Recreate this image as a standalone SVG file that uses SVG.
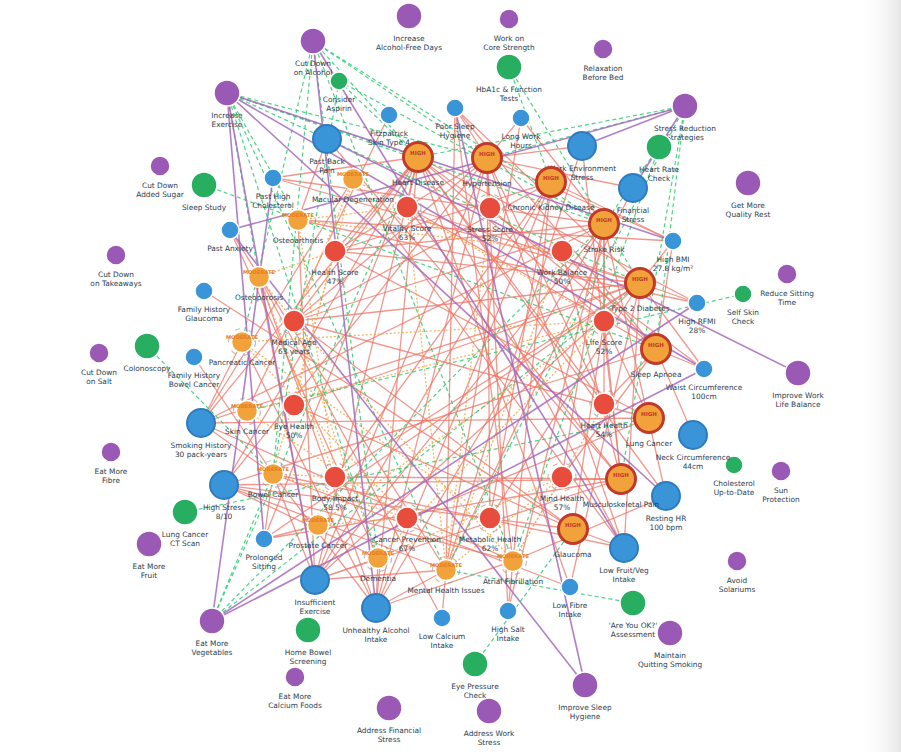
<svg xmlns="http://www.w3.org/2000/svg" width="901" height="752" viewBox="0 0 901 752">
<defs>
<linearGradient id="shade" x1="0" y1="0" x2="1" y2="0">
<stop offset="0" stop-color="#ffffff" stop-opacity="0"/>
<stop offset="1" stop-color="#e6e6e6" stop-opacity="1"/>
</linearGradient>
<style>
.er{stroke:#ec7063;stroke-width:1.3;opacity:.72;fill:none}
.eo{stroke:#f5a64a;stroke-width:1.3;stroke-dasharray:2 2;opacity:.85;fill:none}
.eg{stroke:#2ecc71;stroke-width:1.2;stroke-dasharray:4 3;opacity:.85;fill:none}
.ep{stroke:#a569bd;stroke-width:1.6;opacity:.85;fill:none}
.act{fill:#9b59b6;stroke:#fff;stroke-width:1.5}
.scr{fill:#27ae60;stroke:#fff;stroke-width:1.5}
.rf{fill:#3a94d8;stroke:#fff;stroke-width:1.5}
.rfl{fill:#3a94d8;stroke:#2e7cbf;stroke-width:2}
.sc{fill:#e74c3c;stroke:#fff;stroke-width:1.5}
.hi{fill:#f2a23a;stroke:#c0392b;stroke-width:3}
.mo{fill:#f2a23a;stroke:#fff;stroke-width:1.5}
.arc{fill:none;stroke:#9a9a9a;stroke-width:1.1;stroke-dasharray:5 9;opacity:.7}
.t{font-family:"DejaVu Sans",Verdana,sans-serif;font-size:7.4px;fill:#2c3e50;text-anchor:middle}
.ht{font-family:"DejaVu Sans",sans-serif;font-size:5.5px;font-weight:bold;fill:#c0392b;text-anchor:middle}
.mt{font-family:"DejaVu Sans",sans-serif;font-size:5.2px;font-weight:bold;fill:#e67e22;text-anchor:middle}
</style>
</defs>
<rect x="0" y="0" width="901" height="752" fill="#ffffff"/>
<rect x="858" y="0" width="43" height="752" fill="url(#shade)"/>

<g id="connectors">
<g id="edges-risk">
<line class="er" x1="201" y1="423" x2="649" y2="418"/>
<line class="er" x1="201" y1="423" x2="418" y2="157"/>
<line class="er" x1="201" y1="423" x2="604" y2="224"/>
<line class="er" x1="201" y1="423" x2="242" y2="342"/>
<line class="er" x1="201" y1="423" x2="273" y2="474"/>
<line class="er" x1="201" y1="423" x2="353" y2="179"/>
<line class="er" x1="201" y1="423" x2="513" y2="561"/>
<line class="er" x1="201" y1="423" x2="640" y2="283"/>
<line class="er" x1="224" y1="485" x2="487" y2="158"/>
<line class="er" x1="224" y1="485" x2="418" y2="157"/>
<line class="er" x1="224" y1="485" x2="446" y2="570"/>
<line class="er" x1="224" y1="485" x2="513" y2="561"/>
<line class="er" x1="224" y1="485" x2="621" y2="479"/>
<line class="er" x1="224" y1="485" x2="656" y2="349"/>
<line class="er" x1="224" y1="485" x2="378" y2="558"/>
<line class="er" x1="224" y1="485" x2="573" y2="529"/>
<line class="er" x1="315" y1="580" x2="640" y2="283"/>
<line class="er" x1="315" y1="580" x2="418" y2="157"/>
<line class="er" x1="315" y1="580" x2="259" y2="277"/>
<line class="er" x1="315" y1="580" x2="487" y2="158"/>
<line class="er" x1="315" y1="580" x2="273" y2="474"/>
<line class="er" x1="315" y1="580" x2="378" y2="558"/>
<line class="er" x1="315" y1="580" x2="446" y2="570"/>
<line class="er" x1="315" y1="580" x2="298" y2="220"/>
<line class="er" x1="315" y1="580" x2="604" y2="224"/>
<line class="er" x1="315" y1="580" x2="621" y2="479"/>
<line class="er" x1="315" y1="580" x2="551" y2="182"/>
<line class="er" x1="376" y1="608" x2="487" y2="158"/>
<line class="er" x1="376" y1="608" x2="604" y2="224"/>
<line class="er" x1="376" y1="608" x2="513" y2="561"/>
<line class="er" x1="376" y1="608" x2="378" y2="558"/>
<line class="er" x1="376" y1="608" x2="273" y2="474"/>
<line class="er" x1="376" y1="608" x2="418" y2="157"/>
<line class="er" x1="376" y1="608" x2="551" y2="182"/>
<line class="er" x1="376" y1="608" x2="446" y2="570"/>
<line class="er" x1="376" y1="608" x2="242" y2="342"/>
<line class="er" x1="376" y1="608" x2="259" y2="277"/>
<line class="er" x1="624" y1="548" x2="273" y2="474"/>
<line class="er" x1="624" y1="548" x2="418" y2="157"/>
<line class="er" x1="624" y1="548" x2="573" y2="529"/>
<line class="er" x1="624" y1="548" x2="640" y2="283"/>
<line class="er" x1="624" y1="548" x2="353" y2="179"/>
<line class="er" x1="624" y1="548" x2="487" y2="158"/>
<line class="er" x1="570" y1="587" x2="273" y2="474"/>
<line class="er" x1="570" y1="587" x2="640" y2="283"/>
<line class="er" x1="570" y1="587" x2="418" y2="157"/>
<line class="er" x1="508" y1="611" x2="487" y2="158"/>
<line class="er" x1="508" y1="611" x2="604" y2="224"/>
<line class="er" x1="508" y1="611" x2="551" y2="182"/>
<line class="er" x1="442" y1="618" x2="259" y2="277"/>
<line class="er" x1="442" y1="618" x2="446" y2="570"/>
<line class="er" x1="264" y1="539" x2="640" y2="283"/>
<line class="er" x1="264" y1="539" x2="418" y2="157"/>
<line class="er" x1="264" y1="539" x2="621" y2="479"/>
<line class="er" x1="264" y1="539" x2="318" y2="525"/>
<line class="er" x1="264" y1="539" x2="273" y2="474"/>
<line class="er" x1="666" y1="496" x2="513" y2="561"/>
<line class="er" x1="666" y1="496" x2="418" y2="157"/>
<line class="er" x1="666" y1="496" x2="604" y2="224"/>
<line class="er" x1="693" y1="435" x2="656" y2="349"/>
<line class="er" x1="704" y1="369" x2="656" y2="349"/>
<line class="er" x1="704" y1="369" x2="640" y2="283"/>
<line class="er" x1="704" y1="369" x2="418" y2="157"/>
<line class="er" x1="697" y1="303" x2="640" y2="283"/>
<line class="er" x1="697" y1="303" x2="418" y2="157"/>
<line class="er" x1="697" y1="303" x2="298" y2="220"/>
<line class="er" x1="673" y1="241" x2="640" y2="283"/>
<line class="er" x1="673" y1="241" x2="298" y2="220"/>
<line class="er" x1="673" y1="241" x2="656" y2="349"/>
<line class="er" x1="673" y1="241" x2="487" y2="158"/>
<line class="er" x1="673" y1="241" x2="551" y2="182"/>
<line class="er" x1="633" y1="188" x2="446" y2="570"/>
<line class="er" x1="633" y1="188" x2="487" y2="158"/>
<line class="er" x1="582" y1="146" x2="446" y2="570"/>
<line class="er" x1="582" y1="146" x2="621" y2="479"/>
<line class="er" x1="582" y1="146" x2="487" y2="158"/>
<line class="er" x1="521" y1="118" x2="487" y2="158"/>
<line class="er" x1="521" y1="118" x2="604" y2="224"/>
<line class="er" x1="521" y1="118" x2="446" y2="570"/>
<line class="er" x1="455" y1="108" x2="487" y2="158"/>
<line class="er" x1="455" y1="108" x2="446" y2="570"/>
<line class="er" x1="455" y1="108" x2="640" y2="283"/>
<line class="er" x1="455" y1="108" x2="513" y2="561"/>
<line class="er" x1="455" y1="108" x2="656" y2="349"/>
<line class="er" x1="389" y1="115" x2="247" y2="411"/>
<line class="er" x1="327" y1="139" x2="621" y2="479"/>
<line class="er" x1="327" y1="139" x2="298" y2="220"/>
<line class="er" x1="273" y1="178" x2="418" y2="157"/>
<line class="er" x1="273" y1="178" x2="604" y2="224"/>
<line class="er" x1="273" y1="178" x2="640" y2="283"/>
<line class="er" x1="230" y1="230" x2="446" y2="570"/>
<line class="er" x1="230" y1="230" x2="378" y2="558"/>
<line class="er" x1="204" y1="291" x2="573" y2="529"/>
<line class="er" x1="194" y1="357" x2="273" y2="474"/>
</g>
<g id="edges-high">
<line class="er" x1="418" y1="157" x2="604" y2="404"/>
<line class="er" x1="418" y1="157" x2="335" y2="251"/>
<line class="er" x1="418" y1="157" x2="294" y2="321"/>
<line class="er" x1="418" y1="157" x2="604" y2="321"/>
<line class="er" x1="418" y1="157" x2="407" y2="207"/>
<line class="er" x1="487" y1="158" x2="604" y2="404"/>
<line class="er" x1="487" y1="158" x2="490" y2="208"/>
<line class="er" x1="487" y1="158" x2="294" y2="321"/>
<line class="er" x1="487" y1="158" x2="335" y2="251"/>
<line class="er" x1="487" y1="158" x2="490" y2="518"/>
<line class="er" x1="551" y1="182" x2="490" y2="518"/>
<line class="er" x1="551" y1="182" x2="294" y2="321"/>
<line class="er" x1="551" y1="182" x2="335" y2="251"/>
<line class="er" x1="551" y1="182" x2="335" y2="477"/>
<line class="er" x1="604" y1="224" x2="604" y2="404"/>
<line class="er" x1="604" y1="224" x2="294" y2="321"/>
<line class="er" x1="604" y1="224" x2="604" y2="321"/>
<line class="er" x1="604" y1="224" x2="335" y2="251"/>
<line class="er" x1="604" y1="224" x2="562" y2="477"/>
<line class="er" x1="640" y1="283" x2="490" y2="518"/>
<line class="er" x1="640" y1="283" x2="335" y2="477"/>
<line class="er" x1="640" y1="283" x2="294" y2="321"/>
<line class="er" x1="640" y1="283" x2="335" y2="251"/>
<line class="er" x1="640" y1="283" x2="407" y2="207"/>
<line class="er" x1="640" y1="283" x2="294" y2="405"/>
<line class="er" x1="656" y1="349" x2="407" y2="207"/>
<line class="er" x1="656" y1="349" x2="490" y2="208"/>
<line class="er" x1="656" y1="349" x2="604" y2="404"/>
<line class="er" x1="656" y1="349" x2="562" y2="477"/>
<line class="er" x1="656" y1="349" x2="562" y2="251"/>
<line class="er" x1="649" y1="418" x2="407" y2="518"/>
<line class="er" x1="649" y1="418" x2="604" y2="321"/>
<line class="er" x1="649" y1="418" x2="294" y2="321"/>
<line class="er" x1="649" y1="418" x2="335" y2="251"/>
<line class="er" x1="621" y1="479" x2="335" y2="477"/>
<line class="er" x1="621" y1="479" x2="562" y2="251"/>
<line class="er" x1="621" y1="479" x2="407" y2="207"/>
<line class="er" x1="621" y1="479" x2="604" y2="321"/>
<line class="er" x1="573" y1="529" x2="294" y2="405"/>
<line class="er" x1="573" y1="529" x2="294" y2="321"/>
<line class="er" x1="573" y1="529" x2="604" y2="321"/>
</g>
<g id="edges-moderate">
<line class="eo" x1="353" y1="179" x2="294" y2="405"/>
<line class="eo" x1="353" y1="179" x2="294" y2="321"/>
<line class="eo" x1="353" y1="179" x2="604" y2="321"/>
<line class="eo" x1="298" y1="220" x2="335" y2="477"/>
<line class="eo" x1="298" y1="220" x2="407" y2="207"/>
<line class="eo" x1="298" y1="220" x2="562" y2="251"/>
<line class="eo" x1="259" y1="277" x2="335" y2="477"/>
<line class="eo" x1="259" y1="277" x2="294" y2="321"/>
<line class="eo" x1="259" y1="277" x2="335" y2="251"/>
<line class="eo" x1="242" y1="342" x2="407" y2="518"/>
<line class="eo" x1="242" y1="342" x2="490" y2="518"/>
<line class="eo" x1="242" y1="342" x2="604" y2="321"/>
<line class="eo" x1="247" y1="411" x2="407" y2="518"/>
<line class="eo" x1="247" y1="411" x2="604" y2="321"/>
<line class="eo" x1="273" y1="474" x2="407" y2="518"/>
<line class="eo" x1="273" y1="474" x2="335" y2="477"/>
<line class="eo" x1="273" y1="474" x2="335" y2="251"/>
<line class="eo" x1="318" y1="525" x2="407" y2="518"/>
<line class="eo" x1="318" y1="525" x2="604" y2="321"/>
<line class="eo" x1="378" y1="558" x2="562" y2="477"/>
<line class="eo" x1="378" y1="558" x2="294" y2="321"/>
<line class="eo" x1="378" y1="558" x2="604" y2="321"/>
<line class="eo" x1="446" y1="570" x2="562" y2="477"/>
<line class="eo" x1="446" y1="570" x2="490" y2="208"/>
<line class="eo" x1="446" y1="570" x2="562" y2="251"/>
<line class="eo" x1="446" y1="570" x2="407" y2="207"/>
<line class="eo" x1="513" y1="561" x2="604" y2="404"/>
<line class="eo" x1="513" y1="561" x2="562" y2="477"/>
<line class="eo" x1="513" y1="561" x2="294" y2="321"/>
</g>
<g id="edges-screening">
<line class="eg" x1="339" y1="81" x2="418" y2="157"/>
<line class="eg" x1="339" y1="81" x2="604" y2="224"/>
<line class="eg" x1="339" y1="81" x2="273" y2="474"/>
<line class="eg" x1="509" y1="67" x2="640" y2="283"/>
<line class="eg" x1="509" y1="67" x2="551" y2="182"/>
<line class="eg" x1="659" y1="147" x2="513" y2="561"/>
<line class="eg" x1="659" y1="147" x2="604" y2="224"/>
<line class="eg" x1="204" y1="185" x2="656" y2="349"/>
<line class="eg" x1="743" y1="294" x2="247" y2="411"/>
<line class="eg" x1="147" y1="346" x2="273" y2="474"/>
<line class="eg" x1="185" y1="512" x2="649" y2="418"/>
<line class="eg" x1="633" y1="603" x2="446" y2="570"/>
<line class="eg" x1="475" y1="664" x2="573" y2="529"/>
<line class="eg" x1="313" y1="41" x2="418" y2="157"/>
<line class="eg" x1="313" y1="41" x2="487" y2="158"/>
<line class="eg" x1="313" y1="41" x2="604" y2="224"/>
<line class="eg" x1="313" y1="41" x2="513" y2="561"/>
<line class="eg" x1="313" y1="41" x2="378" y2="558"/>
<line class="eg" x1="313" y1="41" x2="273" y2="474"/>
<line class="eg" x1="313" y1="41" x2="242" y2="342"/>
<line class="eg" x1="227" y1="93" x2="418" y2="157"/>
<line class="eg" x1="227" y1="93" x2="487" y2="158"/>
<line class="eg" x1="227" y1="93" x2="640" y2="283"/>
<line class="eg" x1="227" y1="93" x2="259" y2="277"/>
<line class="eg" x1="227" y1="93" x2="446" y2="570"/>
<line class="eg" x1="227" y1="93" x2="604" y2="224"/>
<line class="eg" x1="227" y1="93" x2="378" y2="558"/>
<line class="eg" x1="227" y1="93" x2="298" y2="220"/>
<line class="eg" x1="685" y1="106" x2="487" y2="158"/>
<line class="eg" x1="685" y1="106" x2="418" y2="157"/>
<line class="eg" x1="685" y1="106" x2="446" y2="570"/>
<line class="eg" x1="685" y1="106" x2="621" y2="479"/>
<line class="eg" x1="685" y1="106" x2="656" y2="349"/>
<line class="eg" x1="212" y1="621" x2="273" y2="474"/>
<line class="eg" x1="212" y1="621" x2="418" y2="157"/>
<line class="eg" x1="212" y1="621" x2="640" y2="283"/>
<line class="eg" x1="212" y1="621" x2="604" y2="224"/>
</g>
<g id="edges-action">
<line class="ep" x1="313" y1="41" x2="376" y2="608"/>
<line class="ep" x1="313" y1="41" x2="624" y2="548"/>
<line class="ep" x1="227" y1="93" x2="315" y2="580"/>
<line class="ep" x1="227" y1="93" x2="666" y2="496"/>
<line class="ep" x1="227" y1="93" x2="704" y2="369"/>
<line class="ep" x1="227" y1="93" x2="673" y2="241"/>
<line class="ep" x1="227" y1="93" x2="264" y2="539"/>
<line class="ep" x1="685" y1="106" x2="582" y2="146"/>
<line class="ep" x1="685" y1="106" x2="633" y2="188"/>
<line class="ep" x1="685" y1="106" x2="230" y2="230"/>
<line class="ep" x1="212" y1="621" x2="704" y2="369"/>
<line class="ep" x1="212" y1="621" x2="697" y2="303"/>
<line class="ep" x1="212" y1="621" x2="273" y2="178"/>
<line class="ep" x1="798" y1="373" x2="327" y2="139"/>
<line class="ep" x1="585" y1="685" x2="455" y2="108"/>
<line class="ep" x1="585" y1="685" x2="230" y2="230"/>
</g>
</g>

<g id="nodes">
<g id="n-iafd"><circle class="act" cx="409" cy="16" r="13"/><text class="t" x="409" y="40.5">Increase<tspan x="409" dy="9.3">Alcohol-Free Days</tspan></text></g>
<g id="n-wcs"><circle class="act" cx="509" cy="19" r="10"/><text class="t" x="509" y="40.5">Work on<tspan x="509" dy="9.3">Core Strength</tspan></text></g>
<g id="n-rbb"><circle class="act" cx="603" cy="49" r="10"/><text class="t" x="603" y="70.5">Relaxation<tspan x="603" dy="9.3">Before Bed</tspan></text></g>
<g id="n-cda"><circle class="act" cx="313" cy="41" r="13"/><text class="t" x="313" y="65.5">Cut Down<tspan x="313" dy="9.3">on Alcohol</tspan></text></g>
<g id="n-ie"><circle class="act" cx="227" cy="93" r="13"/><text class="t" x="227" y="117.5">Increase<tspan x="227" dy="9.3">Exercise</tspan></text></g>
<g id="n-srs"><circle class="act" cx="685" cy="106" r="13"/><text class="t" x="685" y="130.5">Stress Reduction<tspan x="685" dy="9.3">Strategies</tspan></text></g>
<g id="n-cdas"><circle class="act" cx="160" cy="166" r="10"/><text class="t" x="160" y="187.5">Cut Down<tspan x="160" dy="9.3">Added Sugar</tspan></text></g>
<g id="n-gmqr"><circle class="act" cx="748" cy="183" r="13"/><text class="t" x="748" y="207.5">Get More<tspan x="748" dy="9.3">Quality Rest</tspan></text></g>
<g id="n-cdt"><circle class="act" cx="116" cy="255" r="10"/><text class="t" x="116" y="276.5">Cut Down<tspan x="116" dy="9.3">on Takeaways</tspan></text></g>
<g id="n-rst"><circle class="act" cx="787" cy="274" r="10"/><text class="t" x="787" y="295.5">Reduce Sitting<tspan x="787" dy="9.3">Time</tspan></text></g>
<g id="n-cds"><circle class="act" cx="99" cy="353" r="10"/><text class="t" x="99" y="374.5">Cut Down<tspan x="99" dy="9.3">on Salt</tspan></text></g>
<g id="n-iwlb"><circle class="act" cx="798" cy="373" r="13"/><text class="t" x="798" y="397.5">Improve Work<tspan x="798" dy="9.3">Life Balance</tspan></text></g>
<g id="n-emfi"><circle class="act" cx="111" cy="452" r="10"/><text class="t" x="111" y="473.5">Eat More<tspan x="111" dy="9.3">Fibre</tspan></text></g>
<g id="n-sp"><circle class="act" cx="781" cy="471" r="10"/><text class="t" x="781" y="492.5">Sun<tspan x="781" dy="9.3">Protection</tspan></text></g>
<g id="n-emfr"><circle class="act" cx="149" cy="544" r="13"/><text class="t" x="149" y="568.5">Eat More<tspan x="149" dy="9.3">Fruit</tspan></text></g>
<g id="n-as"><circle class="act" cx="737" cy="561" r="10"/><text class="t" x="737" y="582.5">Avoid<tspan x="737" dy="9.3">Solariums</tspan></text></g>
<g id="n-emv"><circle class="act" cx="212" cy="621" r="13"/><text class="t" x="212" y="645.5">Eat More<tspan x="212" dy="9.3">Vegetables</tspan></text></g>
<g id="n-mqs"><circle class="act" cx="670" cy="633" r="13"/><text class="t" x="670" y="657.5">Maintain<tspan x="670" dy="9.3">Quitting Smoking</tspan></text></g>
<g id="n-emcf"><circle class="act" cx="295" cy="677" r="10"/><text class="t" x="295" y="698.5">Eat More<tspan x="295" dy="9.3">Calcium Foods</tspan></text></g>
<g id="n-ish"><circle class="act" cx="585" cy="685" r="13"/><text class="t" x="585" y="709.5">Improve Sleep<tspan x="585" dy="9.3">Hygiene</tspan></text></g>
<g id="n-afs"><circle class="act" cx="389" cy="708" r="13"/><text class="t" x="389" y="732.5">Address Financial<tspan x="389" dy="9.3">Stress</tspan></text></g>
<g id="n-aws"><circle class="act" cx="489" cy="711" r="13"/><text class="t" x="489" y="735.5">Address Work<tspan x="489" dy="9.3">Stress</tspan></text></g>

<g id="n-hba1c"><circle class="scr" cx="509" cy="67" r="13"/><text class="t" x="509" y="91.5">HbA1c &amp; Function<tspan x="509" dy="9.3">Tests</tspan></text></g>
<g id="n-ca"><circle class="scr" cx="339" cy="81" r="9"/><text class="t" x="339" y="102">Consider<tspan x="339" dy="9.3">Aspirin</tspan></text></g>
<g id="n-hrc"><circle class="scr" cx="659" cy="147" r="13"/><text class="t" x="659" y="171.5">Heart Rate<tspan x="659" dy="9.3">Check</tspan></text></g>
<g id="n-ss"><circle class="scr" cx="204" cy="185" r="13"/><text class="t" x="204" y="209.5">Sleep Study</text></g>
<g id="n-ssc"><circle class="scr" cx="743" cy="294" r="9"/><text class="t" x="743" y="315">Self Skin<tspan x="743" dy="9.3">Check</tspan></text></g>
<g id="n-col"><circle class="scr" cx="147" cy="346" r="13"/><text class="t" x="147" y="370.5">Colonoscopy</text></g>
<g id="n-cud"><circle class="scr" cx="734" cy="465" r="9"/><text class="t" x="734" y="486">Cholesterol<tspan x="734" dy="9.3">Up-to-Date</tspan></text></g>
<g id="n-lcct"><circle class="scr" cx="185" cy="512" r="13"/><text class="t" x="185" y="536.5">Lung Cancer<tspan x="185" dy="9.3">CT Scan</tspan></text></g>
<g id="n-hbs"><circle class="scr" cx="308" cy="630" r="13"/><text class="t" x="308" y="654.5">Home Bowel<tspan x="308" dy="9.3">Screening</tspan></text></g>
<g id="n-ruok"><circle class="scr" cx="633" cy="603" r="13"/><text class="t" x="633" y="627.5">'Are You OK?'<tspan x="633" dy="9.3">Assessment</tspan></text></g>
<g id="n-epc"><circle class="scr" cx="475" cy="664" r="13"/><text class="t" x="475" y="688.5">Eye Pressure<tspan x="475" dy="9.3">Check</tspan></text></g>

<g id="n-fst"><circle class="rf" cx="389" cy="115" r="9"/><text class="t" x="389" y="136">Fitzpatrick<tspan x="389" dy="9.3">Skin Type 4</tspan></text></g>
<g id="n-psh"><circle class="rf" cx="455" cy="108" r="9"/><text class="t" x="455" y="129">Poor Sleep<tspan x="455" dy="9.3">Hygiene</tspan></text></g>
<g id="n-lwh"><circle class="rf" cx="521" cy="118" r="9"/><text class="t" x="521" y="139">Long Work<tspan x="521" dy="9.3">Hours</tspan></text></g>
<g id="n-pbp"><circle class="rfl" cx="327" cy="139" r="14"/><text class="t" x="327" y="164">Past Back<tspan x="327" dy="9.3">Pain</tspan></text></g>
<g id="n-wes"><circle class="rfl" cx="582" cy="146" r="14"/><text class="t" x="582" y="171">Work Environment<tspan x="582" dy="9.3">Stress</tspan></text></g>
<g id="n-fs"><circle class="rfl" cx="633" cy="188" r="14"/><text class="t" x="633" y="213">Financial<tspan x="633" dy="9.3">Stress</tspan></text></g>
<g id="n-phc"><circle class="rf" cx="273" cy="178" r="9"/><text class="t" x="273" y="199">Past High<tspan x="273" dy="9.3">Cholesterol</tspan></text></g>
<g id="n-pa"><circle class="rf" cx="230" cy="230" r="9"/><text class="t" x="230" y="251">Past Anxiety</text></g>
<g id="n-hbmi"><circle class="rf" cx="673" cy="241" r="9"/><text class="t" x="673" y="262">High BMI<tspan x="673" dy="9.3">27.8 kg/m²</tspan></text></g>
<g id="n-fhg"><circle class="rf" cx="204" cy="291" r="9"/><text class="t" x="204" y="312">Family History<tspan x="204" dy="9.3">Glaucoma</tspan></text></g>
<g id="n-hrfmi"><circle class="rf" cx="697" cy="303" r="9"/><text class="t" x="697" y="324">High RFMI<tspan x="697" dy="9.3">28%</tspan></text></g>
<g id="n-fhbc"><circle class="rf" cx="194" cy="357" r="9"/><text class="t" x="194" y="378">Family History<tspan x="194" dy="9.3">Bowel Cancer</tspan></text></g>
<g id="n-wc"><circle class="rf" cx="704" cy="369" r="9"/><text class="t" x="704" y="390">Waist Circumference<tspan x="704" dy="9.3">100cm</tspan></text></g>
<g id="n-sh"><circle class="rfl" cx="201" cy="423" r="14"/><text class="t" x="201" y="448">Smoking History<tspan x="201" dy="9.3">30 pack-years</tspan></text></g>
<g id="n-nc"><circle class="rfl" cx="693" cy="435" r="14"/><text class="t" x="693" y="460">Neck Circumference<tspan x="693" dy="9.3">44cm</tspan></text></g>
<g id="n-hs"><circle class="rfl" cx="224" cy="485" r="14"/><text class="t" x="224" y="510">High Stress<tspan x="224" dy="9.3">8/10</tspan></text></g>
<g id="n-rhr"><circle class="rfl" cx="666" cy="496" r="14"/><text class="t" x="666" y="521">Resting HR<tspan x="666" dy="9.3">100 bpm</tspan></text></g>
<g id="n-ps"><circle class="rf" cx="264" cy="539" r="9"/><text class="t" x="264" y="560">Prolonged<tspan x="264" dy="9.3">Sitting</tspan></text></g>
<g id="n-lfv"><circle class="rfl" cx="624" cy="548" r="14"/><text class="t" x="624" y="573">Low Fruit/Veg<tspan x="624" dy="9.3">Intake</tspan></text></g>
<g id="n-iex"><circle class="rfl" cx="315" cy="580" r="14"/><text class="t" x="315" y="605">Insufficient<tspan x="315" dy="9.3">Exercise</tspan></text></g>
<g id="n-uai"><circle class="rfl" cx="376" cy="608" r="14"/><text class="t" x="376" y="633">Unhealthy Alcohol<tspan x="376" dy="9.3">Intake</tspan></text></g>
<g id="n-lci"><circle class="rf" cx="442" cy="618" r="9"/><text class="t" x="442" y="639">Low Calcium<tspan x="442" dy="9.3">Intake</tspan></text></g>
<g id="n-hsi"><circle class="rf" cx="508" cy="611" r="9"/><text class="t" x="508" y="632">High Salt<tspan x="508" dy="9.3">Intake</tspan></text></g>
<g id="n-lfi"><circle class="rf" cx="570" cy="587" r="9"/><text class="t" x="570" y="608">Low Fibre<tspan x="570" dy="9.3">Intake</tspan></text></g>

<g id="n-vit"><circle class="arc" cx="407" cy="207" r="14"/><circle class="sc" cx="407" cy="207" r="11"/><text class="t" x="407" y="231">Vitality Score<tspan x="407" dy="9.3">63%</tspan></text></g>
<g id="n-str"><circle class="arc" cx="490" cy="208" r="14"/><circle class="sc" cx="490" cy="208" r="11"/><text class="t" x="490" y="232">Stress Score<tspan x="490" dy="9.3">52%</tspan></text></g>
<g id="n-hsc"><circle class="sc" cx="335" cy="251" r="11"/><text class="t" x="335" y="275">Health Score<tspan x="335" dy="9.3">47%</tspan></text></g>
<g id="n-wb"><circle class="sc" cx="562" cy="251" r="11"/><text class="t" x="562" y="275">Work Balance<tspan x="562" dy="9.3">50%</tspan></text></g>
<g id="n-ma"><circle class="arc" cx="294" cy="321" r="14"/><circle class="sc" cx="294" cy="321" r="11"/><text class="t" x="294" y="345">Medical Age<tspan x="294" dy="9.3">63 years</tspan></text></g>
<g id="n-ls"><circle class="arc" cx="604" cy="321" r="14"/><circle class="sc" cx="604" cy="321" r="11"/><text class="t" x="604" y="345">Life Score<tspan x="604" dy="9.3">52%</tspan></text></g>
<g id="n-eh"><circle class="sc" cx="294" cy="405" r="11"/><text class="t" x="294" y="429">Eye Health<tspan x="294" dy="9.3">50%</tspan></text></g>
<g id="n-hh"><circle class="arc" cx="604" cy="404" r="14"/><circle class="sc" cx="604" cy="404" r="11"/><text class="t" x="604" y="428">Heart Health<tspan x="604" dy="9.3">54%</tspan></text></g>
<g id="n-bi"><circle class="arc" cx="335" cy="477" r="14"/><circle class="sc" cx="335" cy="477" r="11"/><text class="t" x="335" y="501">Body Impact<tspan x="335" dy="9.3">58.5%</tspan></text></g>
<g id="n-mh"><circle class="arc" cx="562" cy="477" r="14"/><circle class="sc" cx="562" cy="477" r="11"/><text class="t" x="562" y="501">Mind Health<tspan x="562" dy="9.3">57%</tspan></text></g>
<g id="n-cp"><circle class="arc" cx="407" cy="518" r="14"/><circle class="sc" cx="407" cy="518" r="11"/><text class="t" x="407" y="542">Cancer Prevention<tspan x="407" dy="9.3">67%</tspan></text></g>
<g id="n-meh"><circle class="arc" cx="490" cy="518" r="14"/><circle class="sc" cx="490" cy="518" r="11"/><text class="t" x="490" y="542">Metabolic Health<tspan x="490" dy="9.3">62%</tspan></text></g>

<g id="n-hd"><circle class="hi" cx="418" cy="157" r="14.5"/><text class="ht" x="418" y="155">HIGH</text><text class="t" x="418" y="184.5">Heart Disease</text></g>
<g id="n-ht"><circle class="hi" cx="487" cy="158" r="14.5"/><text class="ht" x="487" y="156">HIGH</text><text class="t" x="487" y="185.5">Hypertension</text></g>
<g id="n-ckd"><circle class="hi" cx="551" cy="182" r="14.5"/><text class="ht" x="551" y="180">HIGH</text><text class="t" x="551" y="209.5">Chronic Kidney Disease</text></g>
<g id="n-sr"><circle class="hi" cx="604" cy="224" r="14.5"/><text class="ht" x="604" y="222">HIGH</text><text class="t" x="604" y="251.5">Stroke Risk</text></g>
<g id="n-t2d"><circle class="hi" cx="640" cy="283" r="14.5"/><text class="ht" x="640" y="281">HIGH</text><text class="t" x="640" y="310.5">Type 2 Diabetes</text></g>
<g id="n-sa"><circle class="hi" cx="656" cy="349" r="14.5"/><text class="ht" x="656" y="347">HIGH</text><text class="t" x="656" y="376.5">Sleep Apnoea</text></g>
<g id="n-lc"><circle class="hi" cx="649" cy="418" r="14.5"/><text class="ht" x="649" y="416">HIGH</text><text class="t" x="649" y="445.5">Lung Cancer</text></g>
<g id="n-mp"><circle class="hi" cx="621" cy="479" r="14.5"/><text class="ht" x="621" y="477">HIGH</text><text class="t" x="621" y="506.5">Musculoskeletal Pain</text></g>
<g id="n-gl"><circle class="hi" cx="573" cy="529" r="14.5"/><text class="ht" x="573" y="527">HIGH</text><text class="t" x="573" y="556.5">Glaucoma</text></g>

<g id="n-md"><circle class="mo" cx="353" cy="179" r="10.5"/><text class="mt" x="353" y="176">MODERATE</text><text class="t" x="353" y="201.5">Macular Degeneration</text></g>
<g id="n-oa"><circle class="mo" cx="298" cy="220" r="10.5"/><text class="mt" x="298" y="217">MODERATE</text><text class="t" x="298" y="242.5">Osteoarthritis</text></g>
<g id="n-op"><circle class="mo" cx="259" cy="277" r="10.5"/><text class="mt" x="259" y="274">MODERATE</text><text class="t" x="259" y="299.5">Osteoporosis</text></g>
<g id="n-pc"><circle class="arc" cx="242" cy="342" r="13.5"/><circle class="mo" cx="242" cy="342" r="10.5"/><text class="mt" x="242" y="339">MODERATE</text><text class="t" x="242" y="364.5">Pancreatic Cancer</text></g>
<g id="n-sc"><circle class="arc" cx="247" cy="411" r="13.5"/><circle class="mo" cx="247" cy="411" r="10.5"/><text class="mt" x="247" y="408">MODERATE</text><text class="t" x="247" y="433.5">Skin Cancer</text></g>
<g id="n-bc"><circle class="arc" cx="273" cy="474" r="13.5"/><circle class="mo" cx="273" cy="474" r="10.5"/><text class="mt" x="273" y="471">MODERATE</text><text class="t" x="273" y="496.5">Bowel Cancer</text></g>
<g id="n-prc"><circle class="mo" cx="318" cy="525" r="10.5"/><text class="mt" x="318" y="522">MODERATE</text><text class="t" x="318" y="547.5">Prostate Cancer</text></g>
<g id="n-dem"><circle class="arc" cx="378" cy="558" r="13.5"/><circle class="mo" cx="378" cy="558" r="10.5"/><text class="mt" x="378" y="555">MODERATE</text><text class="t" x="378" y="580.5">Dementia</text></g>
<g id="n-mhi"><circle class="arc" cx="446" cy="570" r="13.5"/><circle class="mo" cx="446" cy="570" r="10.5"/><text class="mt" x="446" y="567">MODERATE</text><text class="t" x="446" y="592.5">Mental Health Issues</text></g>
<g id="n-af"><circle class="arc" cx="513" cy="561" r="13.5"/><circle class="mo" cx="513" cy="561" r="10.5"/><text class="mt" x="513" y="558">MODERATE</text><text class="t" x="513" y="583.5">Atrial Fibrillation</text></g>
</g>
</svg>
